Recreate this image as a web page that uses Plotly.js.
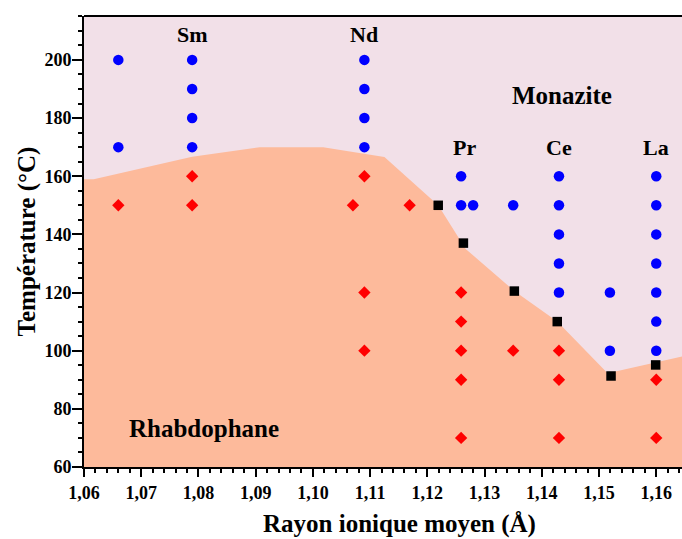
<!DOCTYPE html>
<html>
<head>
<meta charset="utf-8">
<script src="https://cdn.plot.ly/plotly-3.0.1.min.js"></script>
<style>html,body{margin:0;padding:0;background:#fff;}#chart{width:682px;height:539px;}</style>
</head>
<body>
<div id="chart"></div>
<script>
// Monazite / rhabdophane stability boundary
const boundaryX = [1.06, 1.0617, 1.0789, 1.0907, 1.1018, 1.1125, 1.1219, 1.1267, 1.1352, 1.1427, 1.1515, 1.1645];
const boundaryY = [159, 159, 166.7, 170, 170, 166.6, 150, 135, 120.5, 110, 92.2, 98];

// Monazite observations (blue circles)
const monaziteX = [1.066, 1.066,
  1.0789, 1.0789, 1.0789, 1.0789,
  1.109, 1.109, 1.109, 1.109,
  1.1259, 1.1259, 1.128, 1.135,
  1.143, 1.143, 1.143, 1.143, 1.143,
  1.1519, 1.1519,
  1.160, 1.160, 1.160, 1.160, 1.160, 1.160, 1.160];
const monaziteY = [200, 170,
  200, 190, 180, 170,
  200, 190, 180, 170,
  160, 150, 150, 150,
  160, 150, 140, 130, 120,
  120, 100,
  160, 150, 140, 130, 120, 110, 100];

// Rhabdophane observations (red diamonds)
const rhabdoX = [1.066, 1.0789, 1.0789, 1.107, 1.109, 1.109, 1.109, 1.1169,
  1.1259, 1.1259, 1.1259, 1.1259, 1.1259, 1.135, 1.143, 1.143, 1.143, 1.160, 1.160];
const rhabdoY = [150, 160, 150, 150, 160, 120, 100, 150,
  120, 110, 100, 90, 70, 100, 100, 90, 70, 90, 70];

// Transition temperatures (black squares)
const transX = [1.1219, 1.1263, 1.1352, 1.1427, 1.1521, 1.1599];
const transY = [150, 137, 120.5, 110, 91.3, 95.1];

// Element labels
const elemNames = ['Sm', 'Nd', 'Pr', 'Ce', 'La'];
const elemX = [1.0789, 1.109, 1.1265, 1.143, 1.160];
const elemY = [208.6, 208.6, 170, 170, 170];

// Phase labels
const phaseNames = ['Monazite', 'Rhabdophane'];
const phaseX = [1.1435, 1.081];
const phaseY = [187.6, 73.4];

const xTickVals = [1.06, 1.07, 1.08, 1.09, 1.10, 1.11, 1.12, 1.13, 1.14, 1.15, 1.16];
const xTickText = ['1,06','1,07','1,08','1,09','1,10','1,11','1,12','1,13','1,14','1,15','1,16'];
const yTickVals = [60, 80, 100, 120, 140, 160, 180, 200];
const yTickText = ['60', '80', '100', '120', '140', '160', '180', '200'];

const xTitle = 'Rayon ionique moyen (Å)';
const yTitle = 'Température (°C)';

const serif = 'Liberation Serif, Times New Roman, serif';
const bold = s => '<b>' + s + '</b>';

const traces = [
  {x: boundaryX, y: boundaryY, type: 'scatter', mode: 'lines', fill: 'tozeroy',
   fillcolor: '#fdba9b', line: {width: 0, color: '#fdba9b'}, hoverinfo: 'skip'},
  {x: monaziteX, y: monaziteY, type: 'scatter', mode: 'markers',
   marker: {symbol: 'circle', size: 10.5, color: '#0000ff'}},
  {x: rhabdoX, y: rhabdoY, type: 'scatter', mode: 'markers',
   marker: {symbol: 'diamond', size: 9.5, color: '#ff0000'}},
  {x: transX, y: transY, type: 'scatter', mode: 'markers',
   marker: {symbol: 'square', size: 9.5, color: '#000000'}}
];

const annotations = [];
elemNames.forEach((n, i) => annotations.push({x: elemX[i], y: elemY[i], text: bold(n),
  showarrow: false, font: {family: serif, size: 22, color: '#000'}, xanchor: 'center', yanchor: 'middle'}));
phaseNames.forEach((n, i) => annotations.push({x: phaseX[i], y: phaseY[i], text: bold(n),
  showarrow: false, font: {family: serif, size: 25, color: '#000'}, xanchor: 'center', yanchor: 'middle'}));
// x-axis title, placed as in the reference (slightly right of plot centre)
annotations.push({xref: 'paper', yref: 'paper', x: 0.527, y: -0.127, text: bold(xTitle),
  showarrow: false, font: {family: serif, size: 25, color: '#000'}, xanchor: 'center', yanchor: 'middle'});

const layout = {
  width: 682, height: 539,
  margin: {l: 84, r: 0, t: 16, b: 72},
  paper_bgcolor: '#ffffff',
  plot_bgcolor: '#f2e0e8',
  showlegend: false,
  xaxis: {
    range: [1.06, 1.1645], tickvals: xTickVals, ticktext: xTickText.map(bold),
    showgrid: false, zeroline: false,
    showline: true, linecolor: '#000', linewidth: 2,
    ticks: 'outside', ticklen: 8, tickwidth: 2, tickcolor: '#000',
    minor: {dtick: 0.002, tick0: 1.06, ticks: 'outside', ticklen: 4, tickwidth: 2, tickcolor: '#000', showgrid: false},
    tickfont: {family: serif, size: 18, color: '#000'}
  },
  yaxis: {
    range: [60, 215.1], tickvals: yTickVals, ticktext: yTickText.map(bold),
    showgrid: false, zeroline: false,
    showline: true, linecolor: '#000', linewidth: 2,
    ticks: 'outside', ticklen: 10, tickwidth: 2, tickcolor: '#000',
    ticklabelstandoff: -3,
    minor: {dtick: 5, tick0: 60, ticks: 'outside', ticklen: 4, tickwidth: 2, tickcolor: '#000', showgrid: false},
    tickfont: {family: serif, size: 18, color: '#000'},
    title: {text: bold(yTitle), font: {family: serif, size: 25, color: '#000'}, standoff: 2}
  },
  shapes: [
    {type: 'line', xref: 'paper', yref: 'paper', x0: 0, x1: 1, y0: 1, y1: 1, line: {color: '#000', width: 2}}
  ],
  annotations: annotations
};

Plotly.newPlot('chart', traces, layout, {displayModeBar: false, staticPlot: true});
</script>
</body>
</html>
